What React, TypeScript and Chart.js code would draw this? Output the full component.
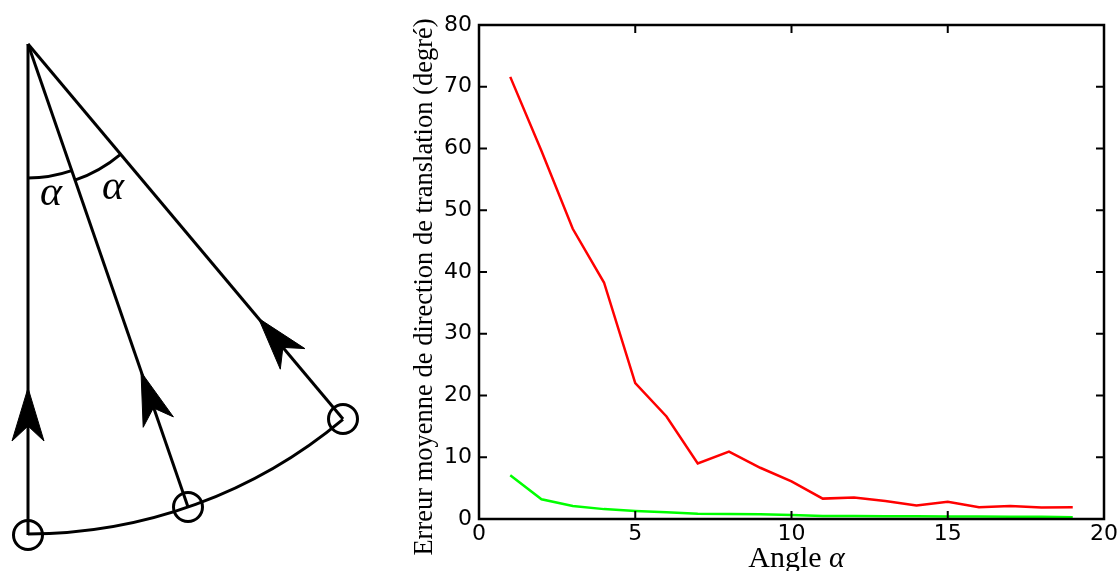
import React, { useEffect, useRef } from "react";
import { Chart, registerables } from "chart.js";

Chart.register(...registerables);

// ---------- Chart data ----------
const angles = [1, 2, 3, 4, 5, 6, 7, 8, 9, 10, 11, 12, 13, 14, 15, 16, 17, 18, 19];
const redError = [71.6, 59.6, 47.0, 38.3, 22.0, 16.6, 9.0, 10.9, 8.3, 6.1, 3.3, 3.5, 2.9, 2.2, 2.8, 1.9, 2.1, 1.85, 1.9];
const greenError = [7.1, 3.2, 2.1, 1.6, 1.3, 1.1, 0.85, 0.8, 0.75, 0.65, 0.5, 0.5, 0.45, 0.45, 0.4, 0.4, 0.35, 0.35, 0.3];
const xTicks = [0, 5, 10, 15, 20];
const yTicks = [0, 10, 20, 30, 40, 50, 60, 70, 80];
const xTitle = "Angle ";
const xTitleSymbol = "α";
const yTitle = "Erreur moyenne de direction de translation (degré)";

// ---------- Diagram data (diagram units) ----------
const diagramApex = [28, 44];
const diagramFeet = [
  [28, 535],
  [188, 507],
  [343, 419],
];
const arrowHeads = [
  [[28, 388], [44, 441], [28, 426], [12, 441]],
  [[141, 372], [173.4, 416.9], [153.4, 407.9], [143.2, 427.3]],
  [[258.5, 318.3], [304.9, 348.6], [282.9, 347.4], [280.3, 369.2]],
];
const arcRadii = [490, 134, 144];
const arcFromDeg = [50, 71, 50];
const arcToDeg = [90, 90, 71];
const alphaLabelX = [51, 113];
const alphaLabelY = [194, 188];
const alphaLabel = "α";

const pt = (p: number[]) => ({ x: p[0], y: p[1] });

export default function App() {
  const diagRef = useRef<HTMLCanvasElement>(null);
  const chartRef = useRef<HTMLCanvasElement>(null);

  useEffect(() => {
    const diagramExtras = {
      id: "diagramExtras",
      afterDatasetsDraw(chart: any) {
        const { ctx, scales } = chart;
        const sx = scales.x;
        const sy = scales.y;
        ctx.save();
        ctx.strokeStyle = "#000";
        ctx.lineWidth = 3;
        const cx = sx.getPixelForValue(diagramApex[0]);
        const cy = sy.getPixelForValue(diagramApex[1]);
        arcRadii.forEach((r, i) => {
          const rp = sx.getPixelForValue(diagramApex[0] + r) - cx;
          ctx.beginPath();
          ctx.arc(cx, cy, rp, (arcFromDeg[i] * Math.PI) / 180, (arcToDeg[i] * Math.PI) / 180);
          ctx.stroke();
        });
        ctx.fillStyle = "#000";
        ctx.font = 'italic 42px "Liberation Serif"';
        ctx.textAlign = "center";
        ctx.textBaseline = "middle";
        alphaLabelX.forEach((lx, i) => {
          ctx.fillText(alphaLabel, sx.getPixelForValue(lx), sy.getPixelForValue(alphaLabelY[i]));
        });
        ctx.restore();
      },
    };

    const diag = new Chart(diagRef.current!, {
      type: "line",
      data: {
        datasets: [
          ...diagramFeet.map((f) => ({
            data: [pt(diagramApex), pt(f)],
            borderColor: "#000",
            borderWidth: 3,
            pointRadius: 0,
            fill: false,
          })),
          ...arrowHeads.map((poly) => ({
            data: [...poly, poly[0]].map(pt),
            borderColor: "#000",
            backgroundColor: "#000",
            borderWidth: 1,
            pointRadius: 0,
            fill: "shape",
          })),
          {
            data: diagramFeet.map(pt),
            showLine: false,
            pointRadius: 14.5,
            pointBorderWidth: 3,
            pointBorderColor: "#000",
            pointBackgroundColor: "rgba(0,0,0,0)",
            borderColor: "#000",
            clip: false,
          },
        ],
      } as any,
      options: {
        responsive: false,
        animation: false,
        events: [],
        layout: { padding: 0, autoPadding: false },
        plugins: { legend: { display: false }, tooltip: { enabled: false } },
        scales: {
          x: { type: "linear", min: 0, max: 400, display: false },
          y: { type: "linear", min: 0, max: 571, reverse: true, display: false },
        },
      } as any,
      plugins: [diagramExtras],
    });

    const frame = {
      id: "frame",
      afterDraw(chart: any) {
        const { ctx, chartArea, scales } = chart;
        const { left, top, right, bottom } = chartArea;
        const sx = scales.x;
        const sy = scales.y;
        ctx.save();
        ctx.strokeStyle = "#000";
        ctx.lineWidth = 2;
        const tl = 8;
        xTicks.forEach((v) => {
          const px = sx.getPixelForValue(v);
          ctx.beginPath();
          ctx.moveTo(px, bottom);
          ctx.lineTo(px, bottom - tl);
          ctx.moveTo(px, top);
          ctx.lineTo(px, top + tl);
          ctx.stroke();
        });
        yTicks.forEach((v) => {
          const py = sy.getPixelForValue(v);
          ctx.beginPath();
          ctx.moveTo(left, py);
          ctx.lineTo(left + tl, py);
          ctx.moveTo(right, py);
          ctx.lineTo(right - tl, py);
          ctx.stroke();
        });
        ctx.lineWidth = 2.5;
        ctx.strokeRect(left, top, right - left, bottom - top);

        // axis titles
        ctx.fillStyle = "#000";
        ctx.textBaseline = "alphabetic";
        const regFont = '30px "Liberation Serif"';
        const itFont = 'italic 30px "Liberation Serif"';
        ctx.font = regFont;
        const w1 = ctx.measureText(xTitle).width;
        ctx.font = itFont;
        const w2 = ctx.measureText(xTitleSymbol).width;
        const startX = (left + right) / 2 + 5 - (w1 + w2) / 2;
        const baseY = bottom + 48;
        ctx.textAlign = "left";
        ctx.font = regFont;
        ctx.fillText(xTitle, startX, baseY);
        ctx.font = itFont;
        ctx.fillText(xTitleSymbol, startX + w1, baseY);

        ctx.save();
        ctx.translate(left - 47, (top + bottom) / 2 + 15);
        ctx.rotate(-Math.PI / 2);
        ctx.textAlign = "center";
        ctx.font = '26.5px "Liberation Serif"';
        ctx.fillText(yTitle, 0, 0);
        ctx.restore();
        ctx.restore();
      },
    };

    const tickFont = { family: "DejaVu Sans", size: 22 };
    const chart = new Chart(chartRef.current!, {
      type: "line",
      data: {
        datasets: [
          {
            label: "Erreur 1",
            data: angles.map((a, i) => ({ x: a, y: redError[i] })),
            borderColor: "#ff0000",
            borderWidth: 2.5,
            pointRadius: 0,
            fill: false,
            tension: 0,
          },
          {
            label: "Erreur 2",
            data: angles.map((a, i) => ({ x: a, y: greenError[i] })),
            borderColor: "#00ff00",
            borderWidth: 2.5,
            pointRadius: 0,
            fill: false,
            tension: 0,
          },
        ],
      },
      options: {
        responsive: false,
        animation: false,
        events: [],
        layout: { padding: { top: 25, right: 15, left: 0, bottom: 0 }, autoPadding: false },
        plugins: { legend: { display: false }, tooltip: { enabled: false } },
        scales: {
          x: {
            type: "linear",
            min: 0,
            max: 20,
            afterBuildTicks: (s: any) => {
              s.ticks = xTicks.map((v) => ({ value: v }));
            },
            afterFit: (s: any) => {
              s.height = 52;
            },
            grid: { display: false, drawTicks: false },
            border: { display: false },
            ticks: { padding: 2, font: tickFont, color: "#000", maxRotation: 0, autoSkip: false },
          },
          y: {
            type: "linear",
            min: 0,
            max: 80,
            afterBuildTicks: (s: any) => {
              s.ticks = yTicks.map((v) => ({ value: v }));
            },
            afterFit: (s: any) => {
              s.width = 79;
            },
            grid: { display: false, drawTicks: false },
            border: { display: false },
            ticks: { padding: 7, font: tickFont, color: "#000", autoSkip: false },
          },
        },
      } as any,
      plugins: [frame],
    });

    return () => {
      diag.destroy();
      chart.destroy();
    };
  }, []);

  return (
    <div
      style={{
        position: "absolute",
        left: 0,
        top: 0,
        width: 1120,
        height: 571,
        background: "#fff",
        overflow: "hidden",
      }}
    >
      <canvas
        ref={diagRef}
        width={400}
        height={571}
        style={{ position: "absolute", left: 0, top: 0, width: 400, height: 571 }}
      />
      <canvas
        ref={chartRef}
        width={720}
        height={571}
        style={{ position: "absolute", left: 400, top: 0, width: 720, height: 571 }}
      />
    </div>
  );
}
